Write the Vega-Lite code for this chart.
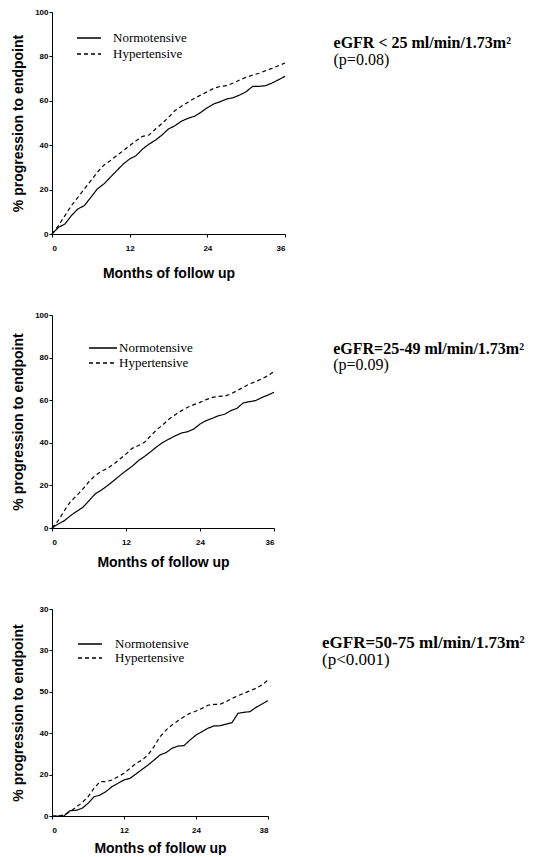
{
"$schema": "https://vega.github.io/schema/vega-lite/v6.json",
"background": "white",
"padding": {"left": 11, "top": 8, "right": 0, "bottom": 0},
"bounds": "flush",
"spacing": 81,
"resolve": {"scale": {"strokeDash": "independent"}, "legend": {"strokeDash": "independent"}},
"config": {
  "view": {"stroke": null},
  "axis": {"domainColor": "black", "domainWidth": 1, "tickColor": "black", "tickSize": 3, "grid": false,
    "labelFont": "Liberation Sans", "labelFontWeight": "bold", "labelFontSize": 8, "labelColor": "black",
    "titleFont": "Liberation Sans", "titleFontWeight": "bold", "titleFontSize": 14, "titleColor": "black"},
  "axisX": {"labelPadding": 7, "minExtent": 20, "maxExtent": 20, "titlePadding": 10},
  "axisY": {"labelPadding": 1, "minExtent": 15, "maxExtent": 15, "titlePadding": 12},
  "legend": {"title": null, "padding": 0, "symbolType": "M-2,0H2", "symbolStrokeColor": "black", "symbolFillColor": "transparent", "symbolStrokeWidth": 1.3,
    "labelFont": "Liberation Serif", "labelFontSize": 13, "labelColor": "black", "rowPadding": 0}
},
"data": {"values": [
{"panel":1,"group":"Hypertensive","month":0,"pct":0},{"panel":1,"group":"Hypertensive","month":1,"pct":3.8},{"panel":1,"group":"Hypertensive","month":2,"pct":8.3},{"panel":1,"group":"Hypertensive","month":3,"pct":12.8},{"panel":1,"group":"Hypertensive","month":4,"pct":16.5},{"panel":1,"group":"Hypertensive","month":5,"pct":20.3},{"panel":1,"group":"Hypertensive","month":6,"pct":24},{"panel":1,"group":"Hypertensive","month":7,"pct":27.8},{"panel":1,"group":"Hypertensive","month":8,"pct":31},{"panel":1,"group":"Hypertensive","month":9,"pct":33},{"panel":1,"group":"Hypertensive","month":10,"pct":35.3},{"panel":1,"group":"Hypertensive","month":11,"pct":37.5},{"panel":1,"group":"Hypertensive","month":12,"pct":39.8},{"panel":1,"group":"Hypertensive","month":13,"pct":42},{"panel":1,"group":"Hypertensive","month":14,"pct":44},{"panel":1,"group":"Hypertensive","month":15,"pct":44.6},{"panel":1,"group":"Hypertensive","month":16,"pct":47.3},{"panel":1,"group":"Hypertensive","month":17,"pct":49.8},{"panel":1,"group":"Hypertensive","month":18,"pct":52.5},{"panel":1,"group":"Hypertensive","month":19,"pct":55.6},{"panel":1,"group":"Hypertensive","month":20,"pct":57.5},{"panel":1,"group":"Hypertensive","month":21,"pct":59.3},{"panel":1,"group":"Hypertensive","month":22,"pct":61.1},{"panel":1,"group":"Hypertensive","month":23,"pct":62.6},{"panel":1,"group":"Hypertensive","month":24,"pct":64.1},{"panel":1,"group":"Hypertensive","month":25,"pct":65.6},{"panel":1,"group":"Hypertensive","month":26,"pct":66.5},{"panel":1,"group":"Hypertensive","month":27,"pct":66.8},{"panel":1,"group":"Hypertensive","month":28,"pct":68},{"panel":1,"group":"Hypertensive","month":29,"pct":69.4},{"panel":1,"group":"Hypertensive","month":30,"pct":70.6},{"panel":1,"group":"Hypertensive","month":31,"pct":71.6},{"panel":1,"group":"Hypertensive","month":32,"pct":72.4},{"panel":1,"group":"Hypertensive","month":33,"pct":73.6},{"panel":1,"group":"Hypertensive","month":34,"pct":74.6},{"panel":1,"group":"Hypertensive","month":35,"pct":75.8},{"panel":1,"group":"Hypertensive","month":36,"pct":77},
{"panel":1,"group":"Normotensive","month":0,"pct":0},{"panel":1,"group":"Normotensive","month":1,"pct":3},{"panel":1,"group":"Normotensive","month":2,"pct":4.5},{"panel":1,"group":"Normotensive","month":3,"pct":8.3},{"panel":1,"group":"Normotensive","month":4,"pct":11.3},{"panel":1,"group":"Normotensive","month":5,"pct":12.8},{"panel":1,"group":"Normotensive","month":6,"pct":16.5},{"panel":1,"group":"Normotensive","month":7,"pct":20.3},{"panel":1,"group":"Normotensive","month":8,"pct":22.5},{"panel":1,"group":"Normotensive","month":9,"pct":25.5},{"panel":1,"group":"Normotensive","month":10,"pct":28.5},{"panel":1,"group":"Normotensive","month":11,"pct":31.5},{"panel":1,"group":"Normotensive","month":12,"pct":33.8},{"panel":1,"group":"Normotensive","month":13,"pct":35.3},{"panel":1,"group":"Normotensive","month":14,"pct":38.3},{"panel":1,"group":"Normotensive","month":15,"pct":40.5},{"panel":1,"group":"Normotensive","month":16,"pct":42.3},{"panel":1,"group":"Normotensive","month":17,"pct":44.6},{"panel":1,"group":"Normotensive","month":18,"pct":47.3},{"panel":1,"group":"Normotensive","month":19,"pct":48.8},{"panel":1,"group":"Normotensive","month":20,"pct":50.8},{"panel":1,"group":"Normotensive","month":21,"pct":52.1},{"panel":1,"group":"Normotensive","month":22,"pct":53},{"panel":1,"group":"Normotensive","month":23,"pct":54.8},{"panel":1,"group":"Normotensive","month":24,"pct":56.9},{"panel":1,"group":"Normotensive","month":25,"pct":58.6},{"panel":1,"group":"Normotensive","month":26,"pct":59.6},{"panel":1,"group":"Normotensive","month":27,"pct":60.8},{"panel":1,"group":"Normotensive","month":28,"pct":61.4},{"panel":1,"group":"Normotensive","month":29,"pct":62.6},{"panel":1,"group":"Normotensive","month":30,"pct":64.1},{"panel":1,"group":"Normotensive","month":31,"pct":66.5},{"panel":1,"group":"Normotensive","month":32,"pct":66.5},{"panel":1,"group":"Normotensive","month":33,"pct":66.8},{"panel":1,"group":"Normotensive","month":34,"pct":68},{"panel":1,"group":"Normotensive","month":35,"pct":69.5},{"panel":1,"group":"Normotensive","month":36,"pct":71},
{"panel":2,"group":"Hypertensive","month":0,"pct":0},{"panel":2,"group":"Hypertensive","month":1,"pct":3.4},{"panel":2,"group":"Hypertensive","month":2,"pct":8.1},{"panel":2,"group":"Hypertensive","month":3,"pct":12.4},{"panel":2,"group":"Hypertensive","month":4,"pct":15.2},{"panel":2,"group":"Hypertensive","month":5,"pct":18.3},{"panel":2,"group":"Hypertensive","month":6,"pct":21.8},{"panel":2,"group":"Hypertensive","month":7,"pct":24.6},{"panel":2,"group":"Hypertensive","month":8,"pct":26.6},{"panel":2,"group":"Hypertensive","month":9,"pct":28},{"panel":2,"group":"Hypertensive","month":10,"pct":30},{"panel":2,"group":"Hypertensive","month":11,"pct":32.4},{"panel":2,"group":"Hypertensive","month":12,"pct":34.7},{"panel":2,"group":"Hypertensive","month":13,"pct":37.4},{"panel":2,"group":"Hypertensive","month":14,"pct":38.7},{"panel":2,"group":"Hypertensive","month":15,"pct":40.2},{"panel":2,"group":"Hypertensive","month":16,"pct":43.3},{"panel":2,"group":"Hypertensive","month":17,"pct":46.2},{"panel":2,"group":"Hypertensive","month":18,"pct":48.5},{"panel":2,"group":"Hypertensive","month":19,"pct":51.2},{"panel":2,"group":"Hypertensive","month":20,"pct":53.2},{"panel":2,"group":"Hypertensive","month":21,"pct":55.1},{"panel":2,"group":"Hypertensive","month":22,"pct":56.7},{"panel":2,"group":"Hypertensive","month":23,"pct":57.9},{"panel":2,"group":"Hypertensive","month":24,"pct":59},{"panel":2,"group":"Hypertensive","month":25,"pct":60.3},{"panel":2,"group":"Hypertensive","month":26,"pct":61.3},{"panel":2,"group":"Hypertensive","month":27,"pct":61.8},{"panel":2,"group":"Hypertensive","month":28,"pct":61.9},{"panel":2,"group":"Hypertensive","month":29,"pct":62.9},{"panel":2,"group":"Hypertensive","month":30,"pct":64.5},{"panel":2,"group":"Hypertensive","month":31,"pct":66},{"panel":2,"group":"Hypertensive","month":32,"pct":67.6},{"panel":2,"group":"Hypertensive","month":33,"pct":68.7},{"panel":2,"group":"Hypertensive","month":34,"pct":70},{"panel":2,"group":"Hypertensive","month":35,"pct":71.5},{"panel":2,"group":"Hypertensive","month":36,"pct":73.4},
{"panel":2,"group":"Normotensive","month":0,"pct":0},{"panel":2,"group":"Normotensive","month":1,"pct":1.9},{"panel":2,"group":"Normotensive","month":2,"pct":3.4},{"panel":2,"group":"Normotensive","month":3,"pct":5.8},{"panel":2,"group":"Normotensive","month":4,"pct":7.8},{"panel":2,"group":"Normotensive","month":5,"pct":9.7},{"panel":2,"group":"Normotensive","month":6,"pct":12.8},{"panel":2,"group":"Normotensive","month":7,"pct":16},{"panel":2,"group":"Normotensive","month":8,"pct":17.8},{"panel":2,"group":"Normotensive","month":9,"pct":19.9},{"panel":2,"group":"Normotensive","month":10,"pct":22.2},{"panel":2,"group":"Normotensive","month":11,"pct":24.6},{"panel":2,"group":"Normotensive","month":12,"pct":26.9},{"panel":2,"group":"Normotensive","month":13,"pct":29},{"panel":2,"group":"Normotensive","month":14,"pct":31.6},{"panel":2,"group":"Normotensive","month":15,"pct":33.6},{"panel":2,"group":"Normotensive","month":16,"pct":35.8},{"panel":2,"group":"Normotensive","month":17,"pct":38.2},{"panel":2,"group":"Normotensive","month":18,"pct":40.2},{"panel":2,"group":"Normotensive","month":19,"pct":41.8},{"panel":2,"group":"Normotensive","month":20,"pct":43.3},{"panel":2,"group":"Normotensive","month":21,"pct":44.6},{"panel":2,"group":"Normotensive","month":22,"pct":45.2},{"panel":2,"group":"Normotensive","month":23,"pct":46.5},{"panel":2,"group":"Normotensive","month":24,"pct":48.8},{"panel":2,"group":"Normotensive","month":25,"pct":50.4},{"panel":2,"group":"Normotensive","month":26,"pct":51.5},{"panel":2,"group":"Normotensive","month":27,"pct":52.7},{"panel":2,"group":"Normotensive","month":28,"pct":53.4},{"panel":2,"group":"Normotensive","month":29,"pct":55.1},{"panel":2,"group":"Normotensive","month":30,"pct":56.2},{"panel":2,"group":"Normotensive","month":31,"pct":58.7},{"panel":2,"group":"Normotensive","month":32,"pct":59.3},{"panel":2,"group":"Normotensive","month":33,"pct":59.8},{"panel":2,"group":"Normotensive","month":34,"pct":61.2},{"panel":2,"group":"Normotensive","month":35,"pct":62.4},{"panel":2,"group":"Normotensive","month":36,"pct":63.7},
{"panel":3,"group":"Hypertensive","month":0,"pct":0},{"panel":3,"group":"Hypertensive","month":1,"pct":0},{"panel":3,"group":"Hypertensive","month":2,"pct":0.5},{"panel":3,"group":"Hypertensive","month":3,"pct":2.1},{"panel":3,"group":"Hypertensive","month":4,"pct":4.2},{"panel":3,"group":"Hypertensive","month":5,"pct":6.4},{"panel":3,"group":"Hypertensive","month":6,"pct":9.3},{"panel":3,"group":"Hypertensive","month":7,"pct":13.4},{"panel":3,"group":"Hypertensive","month":8,"pct":16.6},{"panel":3,"group":"Hypertensive","month":9,"pct":16.6},{"panel":3,"group":"Hypertensive","month":10,"pct":17.4},{"panel":3,"group":"Hypertensive","month":11,"pct":19},{"panel":3,"group":"Hypertensive","month":12,"pct":20.6},{"panel":3,"group":"Hypertensive","month":13,"pct":23},{"panel":3,"group":"Hypertensive","month":14,"pct":25.4},{"panel":3,"group":"Hypertensive","month":15,"pct":27},{"panel":3,"group":"Hypertensive","month":16,"pct":29.5},{"panel":3,"group":"Hypertensive","month":17,"pct":33.5},{"panel":3,"group":"Hypertensive","month":18,"pct":38.3},{"panel":3,"group":"Hypertensive","month":19,"pct":41.5},{"panel":3,"group":"Hypertensive","month":20,"pct":44},{"panel":3,"group":"Hypertensive","month":21,"pct":46},{"panel":3,"group":"Hypertensive","month":22,"pct":48},{"panel":3,"group":"Hypertensive","month":23,"pct":49.6},{"panel":3,"group":"Hypertensive","month":24,"pct":50.7},{"panel":3,"group":"Hypertensive","month":25,"pct":52},{"panel":3,"group":"Hypertensive","month":26,"pct":53.5},{"panel":3,"group":"Hypertensive","month":27,"pct":53.9},{"panel":3,"group":"Hypertensive","month":28,"pct":54},{"panel":3,"group":"Hypertensive","month":29,"pct":55.2},{"panel":3,"group":"Hypertensive","month":30,"pct":56.8},{"panel":3,"group":"Hypertensive","month":31,"pct":58.1},{"panel":3,"group":"Hypertensive","month":32,"pct":59.3},{"panel":3,"group":"Hypertensive","month":33,"pct":60.5},{"panel":3,"group":"Hypertensive","month":34,"pct":61.7},{"panel":3,"group":"Hypertensive","month":35,"pct":63.3},{"panel":3,"group":"Hypertensive","month":36,"pct":65.7},
{"panel":3,"group":"Normotensive","month":0,"pct":0},{"panel":3,"group":"Normotensive","month":1,"pct":0},{"panel":3,"group":"Normotensive","month":2,"pct":0},{"panel":3,"group":"Normotensive","month":3,"pct":2.6},{"panel":3,"group":"Normotensive","month":4,"pct":2.7},{"panel":3,"group":"Normotensive","month":5,"pct":3.7},{"panel":3,"group":"Normotensive","month":6,"pct":6.1},{"panel":3,"group":"Normotensive","month":7,"pct":9.3},{"panel":3,"group":"Normotensive","month":8,"pct":10.1},{"panel":3,"group":"Normotensive","month":9,"pct":11.8},{"panel":3,"group":"Normotensive","month":10,"pct":14.2},{"panel":3,"group":"Normotensive","month":11,"pct":15.8},{"panel":3,"group":"Normotensive","month":12,"pct":17.4},{"panel":3,"group":"Normotensive","month":13,"pct":18.2},{"panel":3,"group":"Normotensive","month":14,"pct":20.3},{"panel":3,"group":"Normotensive","month":15,"pct":22.5},{"panel":3,"group":"Normotensive","month":16,"pct":24.6},{"panel":3,"group":"Normotensive","month":17,"pct":27},{"panel":3,"group":"Normotensive","month":18,"pct":29.5},{"panel":3,"group":"Normotensive","month":19,"pct":30.6},{"panel":3,"group":"Normotensive","month":20,"pct":32.7},{"panel":3,"group":"Normotensive","month":21,"pct":33.8},{"panel":3,"group":"Normotensive","month":22,"pct":34},{"panel":3,"group":"Normotensive","month":23,"pct":36.7},{"panel":3,"group":"Normotensive","month":24,"pct":39.1},{"panel":3,"group":"Normotensive","month":25,"pct":40.7},{"panel":3,"group":"Normotensive","month":26,"pct":42.4},{"panel":3,"group":"Normotensive","month":27,"pct":43.5},{"panel":3,"group":"Normotensive","month":28,"pct":43.6},{"panel":3,"group":"Normotensive","month":29,"pct":44.4},{"panel":3,"group":"Normotensive","month":30,"pct":45.1},{"panel":3,"group":"Normotensive","month":31,"pct":49.6},{"panel":3,"group":"Normotensive","month":32,"pct":50.1},{"panel":3,"group":"Normotensive","month":33,"pct":50.4},{"panel":3,"group":"Normotensive","month":34,"pct":52.5},{"panel":3,"group":"Normotensive","month":35,"pct":54.1},{"panel":3,"group":"Normotensive","month":36,"pct":55.7}
]},
"vconcat": [
{
  "width": 233, "height": 222,
  "layer": [
    {"transform": [{"filter": "datum.panel == 1"}],
     "mark": {"type": "line", "color": "black", "strokeWidth": 1.2},
     "encoding": {
       "x": {"field": "month", "type": "quantitative", "scale": {"domain": [0, 36], "nice": false},
             "axis": {"values": [0,6,12,18,24,30,36], "labelExpr": "datum.value % 12 == 0 ? datum.label : ''", "title": "Months of follow up", "titlePadding": 12}},
       "y": {"field": "pct", "type": "quantitative", "scale": {"domain": [0, 100], "nice": false},
             "axis": {"values": [0,10,20,30,40,50,60,70,80,90,100], "labelExpr": "datum.value % 20 == 0 ? datum.label : ''", "title": "% progression to endpoint"}},
       "strokeDash": {"field": "group", "type": "nominal", "scale": {"domain": ["Normotensive", "Hypertensive"], "range": [[1, 0], [4, 3]]},
             "legend": {"orient": "none", "legendX": 30, "legendY": 19, "symbolSize": 144, "labelOffset": 17, "rowPadding": 2}}
     }},
    {"data": {"values": [{"label": "eGFR < 25 ml/min/1.73m²", "p": "(p=0.08)"}]},
     "mark": {"type": "text", "font": "Liberation Serif", "fontWeight": "bold", "fontSize": 16, "align": "left", "baseline": "alphabetic", "color": "black"},
     "encoding": {"x": {"datum": 43.5}, "y": {"datum": 83.6}, "text": {"field": "label"}}},
    {"data": {"values": [{"label": "eGFR < 25 ml/min/1.73m²", "p": "(p=0.08)"}]},
     "mark": {"type": "text", "font": "Liberation Serif", "fontSize": 16, "align": "left", "baseline": "alphabetic", "color": "black"},
     "encoding": {"x": {"datum": 43.5}, "y": {"datum": 76.3}, "text": {"field": "p"}}}
  ]
},
{
  "width": 222, "height": 213,
  "layer": [
    {"transform": [{"filter": "datum.panel == 2"}],
     "mark": {"type": "line", "color": "black", "strokeWidth": 1.2},
     "encoding": {
       "x": {"field": "month", "type": "quantitative", "scale": {"domain": [0, 36], "nice": false},
             "axis": {"values": [0,6,12,18,24,30,36], "labelExpr": "datum.value % 12 == 0 ? datum.label : ''", "title": "Months of follow up", "titlePadding": 7}},
       "y": {"field": "pct", "type": "quantitative", "scale": {"domain": [0, 100], "nice": false},
             "axis": {"values": [0,10,20,30,40,50,60,70,80,90,100], "labelExpr": "datum.value % 20 == 0 ? datum.label : ''", "title": "% progression to endpoint"}},
       "strokeDash": {"field": "group", "type": "nominal", "scale": {"domain": ["Normotensive", "Hypertensive"], "range": [[1, 0], [4, 3]]},
             "legend": {"orient": "none", "legendX": 43, "legendY": 25, "symbolSize": 196, "labelOffset": 8, "rowPadding": 0}}
     }},
    {"data": {"values": [{"label": "eGFR=25-49 ml/min/1.73m²", "p": "(p=0.09)"}]},
     "mark": {"type": "text", "font": "Liberation Serif", "fontWeight": "bold", "fontSize": 16, "align": "left", "baseline": "alphabetic", "color": "black"},
     "encoding": {"x": {"datum": 45.6}, "y": {"datum": 81.7}, "text": {"field": "label"}}},
    {"data": {"values": [{"label": "eGFR=25-49 ml/min/1.73m²", "p": "(p=0.09)"}]},
     "mark": {"type": "text", "font": "Liberation Serif", "fontSize": 16, "align": "left", "baseline": "alphabetic", "color": "black"},
     "encoding": {"x": {"datum": 45.6}, "y": {"datum": 74.2}, "text": {"field": "p"}}}
  ]
},
{
  "width": 216, "height": 207,
  "layer": [
    {"transform": [{"filter": "datum.panel == 3"}],
     "mark": {"type": "line", "color": "black", "strokeWidth": 1.2},
     "encoding": {
       "x": {"field": "month", "type": "quantitative", "scale": {"domain": [0, 36], "nice": false},
             "axis": {"values": [0,6,12,18,24,30,36], "labelExpr": "datum.value == 36 ? '38' : datum.value % 12 == 0 ? datum.label : ''", "title": "Months of follow up", "titlePadding": 5}},
       "y": {"field": "pct", "type": "quantitative", "scale": {"domain": [0, 100], "nice": false},
             "axis": {"values": [0,10,20,30,40,50,60,70,80,90,100], "labelExpr": "datum.value == 100 ? '30' : datum.value == 80 ? '30' : datum.value == 60 ? '50' : datum.value % 20 == 0 ? datum.label : ''", "title": "% progression to endpoint"}},
       "strokeDash": {"field": "group", "type": "nominal", "scale": {"domain": ["Normotensive", "Hypertensive"], "range": [[1, 0], [4, 3]]},
             "legend": {"orient": "none", "legendX": 31, "legendY": 28, "symbolSize": 144, "labelOffset": 18, "rowPadding": 0}}
     }},
    {"data": {"values": [{"label": "eGFR=50-75 ml/min/1.73m²", "p": "(p<0.001)"}]},
     "mark": {"type": "text", "font": "Liberation Serif", "fontWeight": "bold", "fontSize": 17, "align": "left", "baseline": "alphabetic", "color": "black"},
     "encoding": {"x": {"datum": 45.0}, "y": {"datum": 81.2}, "text": {"field": "label"}}},
    {"data": {"values": [{"label": "eGFR=50-75 ml/min/1.73m²", "p": "(p<0.001)"}]},
     "mark": {"type": "text", "font": "Liberation Serif", "fontSize": 17, "align": "left", "baseline": "alphabetic", "color": "black"},
     "encoding": {"x": {"datum": 45.0}, "y": {"datum": 72.9}, "text": {"field": "p"}}}
  ]
}
]
}
